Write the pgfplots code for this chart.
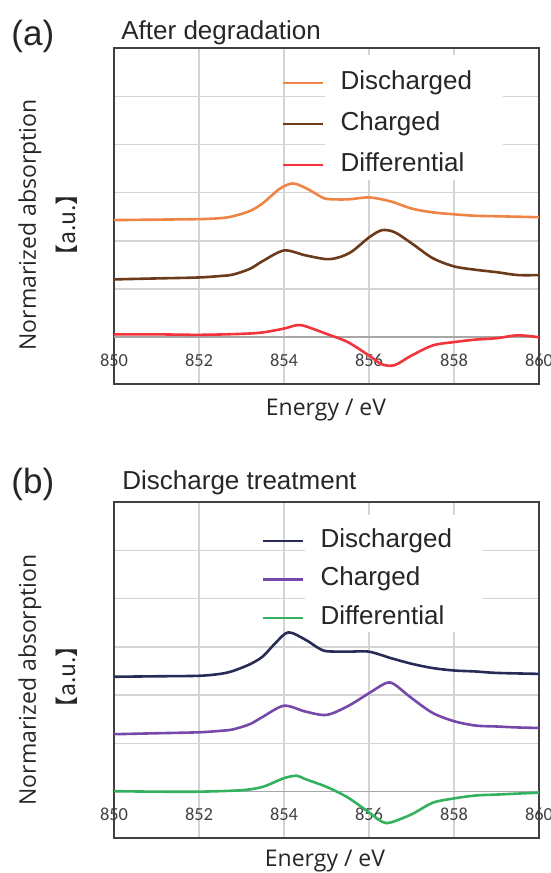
\documentclass[border=0pt]{standalone}
\usepackage{fontspec}
\setmainfont{Liberation Sans}
\newfontfamily\osans{Open Sans}
\newfontfamily\cjk{Noto Sans CJK JP}
\newfontfamily\tickfont{Carlito}
\usepackage{pgfplots}
\pgfplotsset{compat=1.18}

\definecolor{gridc}{HTML}{D4D4D4}
\definecolor{zeroc}{HTML}{A6A6A6}
\definecolor{framec}{HTML}{404040}
\definecolor{aDis}{HTML}{EE8445}
\definecolor{aChg}{HTML}{6B3A1A}
\definecolor{aDif}{HTML}{F5333B}
\definecolor{bDis}{HTML}{282B55}
\definecolor{bChg}{HTML}{7548AA}
\definecolor{bDif}{HTML}{33B15E}

% shared look of both panels
\pgfplotsset{
  xasplot/.style={
    scale only axis, width=212.5pt, height=168pt,
    anchor=north west,
    xmin=850, xmax=860,
    xtick={850,852,...,860},
    ytick={1,2,3,4,5}, yticklabels={},
    xmajorgrids, ymajorgrids,
    grid style={gridc, line width=0.7pt},
    major tick length=0pt,
    axis line style={framec, line width=0.9pt},
    /pgf/number format/assume math mode=true,
    xticklabel style={font=\tickfont\fontsize{9.2}{10}\selectfont, text=black!75,
      anchor=center, yshift=12pt},
    legend cell align=left,
    legend image code/.code={\draw[##1, line width=1.3pt] (0pt,0pt) -- (20pt,0pt);},
    every axis plot/.append style={line width=1.3pt, smooth, tension=0.5},
  }
}

\begin{document}
\begin{tikzpicture}
\path[use as bounding box] (0,0) rectangle (275.5pt,-436.5pt);

% ---------- (a) ----------
\node[anchor=base west, inner sep=0, font=\fontsize{17.5}{20}\selectfont, text=black!85] at (5.5pt,-22.5pt) {(a)};
\node[anchor=base west, inner sep=0, font=\fontsize{13}{15}\selectfont, text=black!85] at (60.5pt,-19.5pt) {After degradation};

\begin{axis}[xasplot, at={(57pt,-24pt)}, ymin=-0.97, ymax=6,
  legend style={at={(0.3953,0.9336)}, anchor=north west, draw=none, fill=none,
    inner sep=0pt, outer sep=0pt, row sep=8pt, column sep=8pt,
    font=\fontsize{13}{15}\selectfont, text=black!85,
    nodes={inner sep=0pt, text height=9.5pt, text depth=3pt}}]
\fill[white] (rel axis cs:0.4965,0.979) rectangle (rel axis cs:0.915,0.607);
\draw[zeroc, line width=0.8pt] (axis cs:850,0) -- (axis cs:860,0);
\addplot[aDis] coordinates {
(850,2.43) (851,2.44) (852,2.45) (852.5,2.47) (852.8,2.51) (853.2,2.62) (853.5,2.78)
(853.9,3.08) (854.2,3.19) (854.5,3.10) (854.8,2.95) (855,2.87) (855.5,2.86)
(856,2.90) (856.5,2.82) (857,2.67) (857.5,2.59) (858,2.55) (858.5,2.52)
(859,2.51) (860,2.49)};
\addlegendentry{Discharged}
\addplot[aChg] coordinates {
(850,1.20) (851,1.22) (852,1.24) (852.5,1.27) (852.8,1.30) (853.2,1.42) (853.5,1.58)
(854,1.80) (854.5,1.70) (855,1.62) (855.3,1.66) (855.6,1.78) (856,2.07)
(856.3,2.22) (856.6,2.18) (857,1.95) (857.5,1.64) (858,1.47) (858.5,1.40)
(859,1.35) (859.5,1.29) (860,1.29)};
\addlegendentry{Charged}
\addplot[aDif] coordinates {
(850,0.06) (851,0.06) (852,0.05) (853,0.07) (853.5,0.10) (854,0.18)
(854.3,0.25) (854.5,0.23) (855,0.07) (855.5,-0.10) (856,-0.38) (856.3,-0.56)
(856.6,-0.58) (857,-0.38) (857.5,-0.17) (858,-0.10) (858.5,-0.05) (859,-0.02)
(859.5,0.04) (860,0.00)};
\addlegendentry{Differential}
\end{axis}

\node[anchor=base, inner sep=0, font=\osans\fontsize{11.5}{13}\selectfont, text=black!85] at (163pt,-207.5pt) {Energy / eV};
\node[rotate=90, inner sep=0, font=\osans\fontsize{11.5}{13}\selectfont, text=black!85] at (15pt,-112.5pt) {Normarized absorption};
\node[rotate=90, inner sep=0, font=\cjk\fontsize{11.5}{13}\selectfont, text=black!85] at (33.5pt,-112.5pt) {【a.u.】};

% ---------- (b) ----------
\node[anchor=base west, inner sep=0, font=\fontsize{17.5}{20}\selectfont, text=black!85] at (5.5pt,-246.5pt) {(b)};
\node[anchor=base west, inner sep=0, font=\fontsize{13}{15}\selectfont, text=black!85] at (61pt,-244.5pt) {Discharge treatment};

\begin{axis}[xasplot, at={(57pt,-251pt)}, ymin=-0.96, ymax=6,
  legend style={at={(0.3482,0.9217)}, anchor=north west, draw=none, fill=none,
    inner sep=0pt, outer sep=0pt, row sep=6.75pt, column sep=8pt,
    font=\fontsize{13}{15}\selectfont, text=black!85,
    nodes={inner sep=0pt, text height=9.5pt, text depth=3pt}}]
\fill[white] (rel axis cs:0.449,0.961) rectangle (rel axis cs:0.866,0.613);
\draw[zeroc, line width=0.8pt] (axis cs:850,0) -- (axis cs:860,0);
\addplot[bDis] coordinates {
(850,2.38) (851,2.39) (852,2.40) (852.5,2.44) (852.8,2.50) (853.2,2.64) (853.5,2.80)
(853.8,3.08) (854.1,3.30) (854.5,3.15) (854.8,2.98) (855,2.91) (855.5,2.90)
(856,2.90) (856.5,2.77) (857,2.65) (857.5,2.56) (858,2.51) (858.5,2.49)
(859,2.46) (860,2.44)};
\addlegendentry{Discharged}
\addplot[bChg] coordinates {
(850,1.19) (851,1.21) (852,1.23) (852.5,1.26) (852.8,1.29) (853.2,1.40) (853.5,1.55)
(854,1.78) (854.5,1.66) (855,1.59) (855.5,1.77) (856,2.04) (856.4,2.25)
(856.6,2.22) (857,1.94) (857.5,1.63) (858,1.46) (858.5,1.37) (859,1.35)
(859.5,1.33) (860,1.32)};
\addlegendentry{Charged}
\addplot[bDif] coordinates {
(850,0.01) (851,0.00) (852,0.00) (853,0.03) (853.5,0.10) (854,0.28)
(854.3,0.33) (854.5,0.26) (855,0.10) (855.5,-0.12) (856,-0.43) (856.3,-0.62)
(856.5,-0.64) (857,-0.47) (857.5,-0.23) (858,-0.14) (858.5,-0.08) (859,-0.06)
(860,-0.02)};
\addlegendentry{Differential}
\end{axis}

\node[anchor=base, inner sep=0, font=\osans\fontsize{11.5}{13}\selectfont, text=black!85] at (162.5pt,-433pt) {Energy / eV};
\node[rotate=90, inner sep=0, font=\osans\fontsize{11.5}{13}\selectfont, text=black!85] at (15pt,-340pt) {Normarized absorption};
\node[rotate=90, inner sep=0, font=\cjk\fontsize{11.5}{13}\selectfont, text=black!85] at (33.5pt,-338.5pt) {【a.u.】};
\end{tikzpicture}
\end{document}
